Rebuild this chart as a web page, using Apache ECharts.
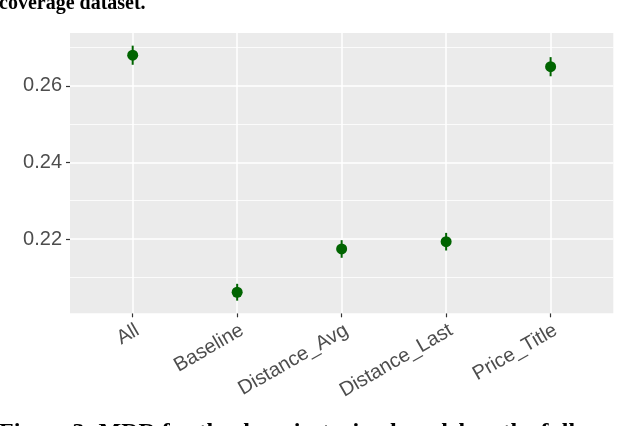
<!DOCTYPE html>
<html>
<head>
    <meta charset="utf-8">
    <title>MRR</title>
    <script src="https://cdn.jsdelivr.net/npm/echarts@6/dist/echarts.min.js"></script>
    <style>
        html, body { margin: 0; padding: 0; background: #fff; }
        #main { width: 640px; height: 426px; }
    </style>
</head>
<body>
    <div id="main"></div>
    <script>
        // data
        var categories = ['All', 'Baseline', 'Distance_Avg', 'Distance_Last', 'Price_Title'];
        var mrr = [0.2680, 0.2061, 0.2174, 0.2193, 0.2650];
        var errLow = [0.2655, 0.2039, 0.2151, 0.2170, 0.2625];
        var errHigh = [0.2705, 0.2083, 0.2197, 0.2216, 0.2675];
        var yTicks = [0.22, 0.24, 0.26];
        var yMinor = [0.21, 0.23, 0.25, 0.27];
        var xTicks = [0, 1, 2, 3, 4];

        var green = '#006400';
        var chart = echarts.init(document.getElementById('main'));

        var pointData = mrr.map(function (v, i) { return [i, v]; });
        var barData = mrr.map(function (v, i) { return [i, errLow[i], errHigh[i]]; });

        // panel grid lines (ggplot style), minor ones thinner
        var gridLines = [];
        yMinor.forEach(function (v) {
            gridLines.push({ yAxis: v, lineStyle: { width: 0.8 } });
        });
        yTicks.forEach(function (v) {
            gridLines.push({ yAxis: v, lineStyle: { width: 1.5 } });
        });
        xTicks.forEach(function (v) {
            gridLines.push({ xAxis: v, lineStyle: { width: 1.5 } });
        });

        chart.setOption({
            animation: false,
            grid: {
                left: 70,
                top: 33,
                right: 26.7,
                bottom: 112.7,
                show: true,
                backgroundColor: '#EBEBEB',
                borderWidth: 0
            },
            xAxis: {
                type: 'value',
                min: -0.6,
                max: 4.6,
                splitLine: { show: false },
                axisLine: { show: false, onZero: false },
                axisTick: {
                    show: true,
                    customValues: xTicks,
                    length: 4,
                    lineStyle: { color: '#333333', width: 1.2 }
                },
                axisLabel: {
                    customValues: xTicks,
                    rotate: 30,
                    margin: 7,
                    align: 'right',
                    verticalAlign: 'top',
                    color: '#4D4D4D',
                    fontFamily: 'Liberation Sans',
                    fontSize: 20,
                    formatter: function (v) { return categories[Math.round(v)]; }
                }
            },
            yAxis: {
                type: 'value',
                min: 0.2006,
                max: 0.2738,
                splitLine: { show: false },
                axisLine: { show: false, onZero: false },
                axisTick: {
                    show: true,
                    customValues: yTicks,
                    length: 4,
                    lineStyle: { color: '#333333', width: 1.2 }
                },
                axisLabel: {
                    customValues: yTicks,
                    margin: 8,
                    color: '#4D4D4D',
                    fontFamily: 'Liberation Sans',
                    fontSize: 20,
                    formatter: function (v) { return v.toFixed(2); }
                }
            },
            graphic: [
                {
                    type: 'text',
                    left: -1,
                    top: -6,
                    style: {
                        text: 'coverage dataset.',
                        font: 'bold 20px "Liberation Serif"',
                        fill: '#000'
                    }
                },
                {
                    type: 'text',
                    left: -1,
                    top: 421,
                    style: {
                        text: 'Figure 3: MRR for the domain-trained model on the full',
                        font: 'bold 24px "Liberation Serif"',
                        fill: '#000'
                    }
                }
            ],
            series: [
                {
                    type: 'line',
                    data: [],
                    z: 1,
                    markLine: {
                        z: 1,
                        silent: true,
                        symbol: ['none', 'none'],
                        label: { show: false },
                        animation: false,
                        lineStyle: { color: '#FFFFFF', type: 'solid' },
                        data: gridLines
                    }
                },
                {
                    type: 'custom',
                    z: 6,
                    data: barData,
                    renderItem: function (params, api) {
                        var lo = api.coord([api.value(0), api.value(1)]);
                        var hi = api.coord([api.value(0), api.value(2)]);
                        return {
                            type: 'line',
                            shape: { x1: lo[0], y1: lo[1], x2: hi[0], y2: hi[1] },
                            style: { stroke: green, lineWidth: 2 }
                        };
                    }
                },
                {
                    type: 'scatter',
                    z: 7,
                    symbol: 'circle',
                    symbolSize: 11,
                    itemStyle: { color: green, opacity: 1 },
                    data: pointData
                }
            ]
        });
    </script>
</body>
</html>
